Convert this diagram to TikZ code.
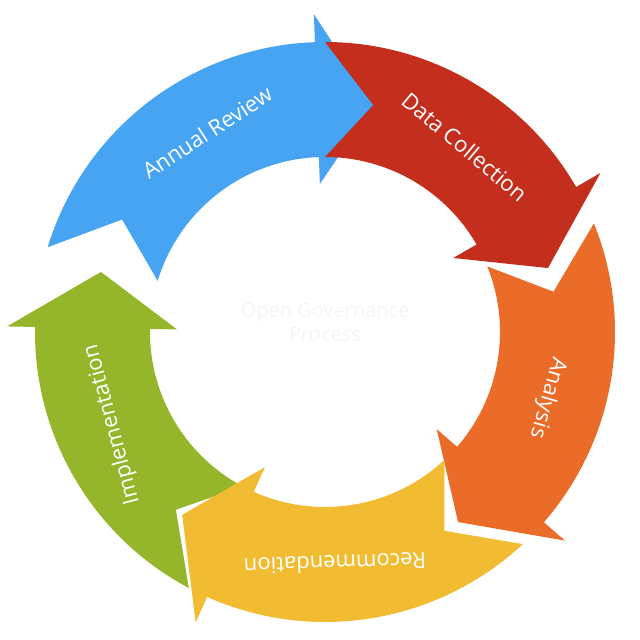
\documentclass[tikz,border=0pt]{standalone}
\usepackage{fontspec}
\setmainfont{Open Sans}
\definecolor{cblue}{HTML}{47A4F2}
\definecolor{cred}{HTML}{C42E1C}
\definecolor{corange}{HTML}{EB6B29}
\definecolor{cyellow}{HTML}{F2BC32}
\definecolor{cgreen}{HTML}{95B52A}
\tikzset{lbl/.style={text=white,font=\fontsize{22}{25}\selectfont}}
\newcommand{\seg}[4]{% start, end, color, name
  \fill[#3] (#1:290) arc[start angle=#1,end angle=#2+14,radius=290] -- (#2+14:318) -- (#2:232) -- (#2+14:148) -- (#2+14:175) arc[start angle=#2+14,end angle=#1,radius=175] -- (#1-12:232) -- cycle;
  \coordinate (#4) at (#1/2+#2/2:232);
}
\begin{document}
\begin{tikzpicture}[x=1pt,y=1pt]
\useasboundingbox (0,0) rectangle (640,640);
\begin{scope}[shift={(325,308)}]
\seg{-118}{-195}{cgreen}{imp}
\seg{163}{78}{cblue}{ann}
\seg{90}{16}{cred}{dat}
\seg{22}{-55}{corange}{ana}
\seg{-47}{-128}{cyellow}{rec}
\node[lbl,rotate=105] at (imp) {Implementation};
\node[lbl,rotate=33] at (ann) {Annual Review};
\node[lbl,rotate=-40] at (dat) {Data Collection};
\node[lbl,rotate=-106] at (ana) {Analysis};
\node[lbl,rotate=-178] at (rec) {Recommendation};
\node[text=black!4,font=\fontsize{20}{24}\selectfont,align=center] (ctr) at (0,10) {Open Governance\\Process};
\end{scope}
\end{tikzpicture}
\end{document}
